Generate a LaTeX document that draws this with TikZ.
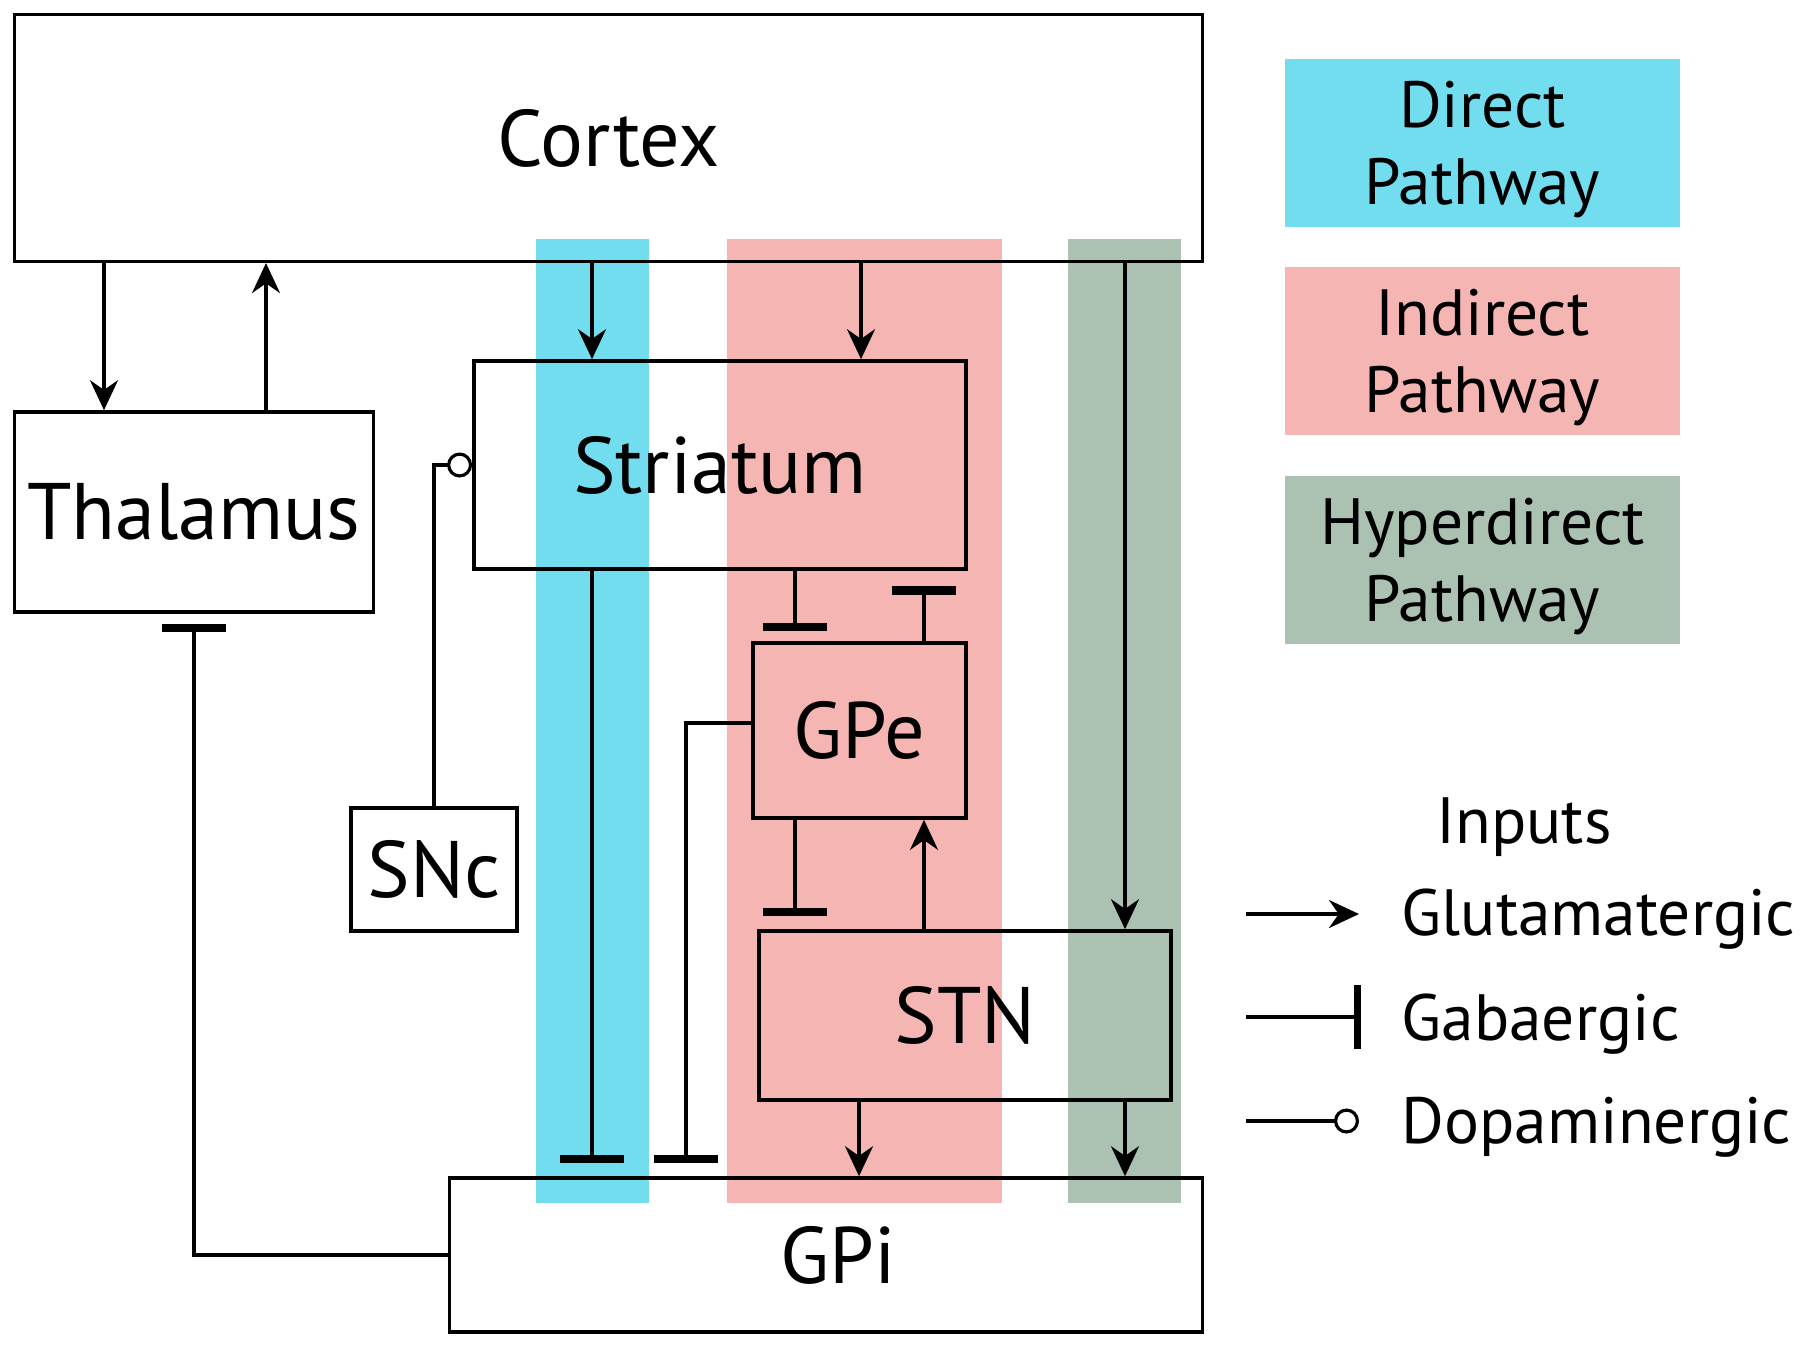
\documentclass[tikz,border=0pt]{standalone}
\usepackage{fontspec}
\setmainfont{PT Sans}
\usetikzlibrary{arrows.meta}

\definecolor{directcol}{RGB}{115,221,240}
\definecolor{indirectcol}{RGB}{245,181,178}
\definecolor{hypercol}{RGB}{171,194,179}
\newcommand{\boxfont}{\fontsize{22.8}{27}\selectfont}
\newcommand{\keyfont}{\fontsize{18.6}{22}\selectfont}

\begin{document}
\begin{tikzpicture}[x=0.01cm,y=-0.01cm,
    area/.style={draw,line width=1pt,inner sep=0pt,font=\boxfont},
    keybox/.style={inner sep=0pt,minimum width=3.95cm,minimum height=1.68cm,align=center,text depth=0pt,font=\keyfont},
    keytext/.style={inner sep=0pt,anchor=base west,font=\keyfont},
    glu/.style={-{Stealth[length=3mm,width=2.8mm]}},
    gaba/.style={-{Bar[width=6.4mm,line width=2.4pt]},shorten >=0.13cm},
    dopa/.style={-{Circle[length=2.5mm,width=2.5mm,fill=white]}}
    ]%
    \useasboundingbox (0,0) rectangle (1800,1344);
    \fill[directcol] (536,239) rectangle (649,1203);
    \fill[indirectcol] (727,239) rectangle (1002,1203);
    \fill[hypercol] (1068,239) rectangle (1181,1203);

    \node[area,minimum width=11.87cm,minimum height=2.465cm] (cortex) at (608.5,138) {Cortex};
    \node[area,minimum width=3.586cm,minimum height=2.0cm] (thalamus) at (194,512) {Thalamus};
    \node[area,minimum width=4.92cm,minimum height=2.08cm] (striatum) at (720,465) {Striatum};
    \node[area,minimum width=2.13cm,minimum height=1.75cm] (gpe) at (859.5,730.5) {GPe};
    \node[area,minimum width=4.115cm,minimum height=1.69cm] (stn) at (965,1015.5) {STN};
    \node[area,minimum width=7.53cm,minimum height=1.54cm] (gpi) at (826,1255) {\hspace*{0.24cm}GPi};
    \node[area,minimum width=1.656cm,minimum height=1.23cm] (snc) at (434,869.5) {SNc};

    \node[keybox,fill=directcol] (direct) at (1482.5,143) {Direct\\Pathway};
    \node[keybox,fill=indirectcol] (indirect) at (1482.5,351) {Indirect\\Pathway};
    \node[keybox,fill=hypercol] (hyper) at (1482.5,560) {Hyperdirect\\Pathway};

    \begin{scope}[line width=0.9pt]
        \draw[glu] (cortex.south -| 104,0) -- (thalamus.north -| 104,0);
        \draw[glu] (thalamus.north -| 266,0) -- (cortex.south -| 266,0);
        \draw[glu] (cortex.south -| 592,0) -- (striatum.north -| 592,0);
        \draw[glu] (cortex.south -| 861,0) -- (striatum.north -| 861,0);
        \draw[glu] (cortex.south -| 1125,0) -- (stn.north -| 1125,0);
        \draw[gaba] (striatum.south -| 592,0) -- (gpi.north -| 592,0);
        \draw[gaba,shorten >=0.1cm] (striatum.south -| 795,0) -- (gpe.north -| 795,0);
        \draw[gaba,shorten >=0.155cm] (gpe.north -| 924,0) -- (striatum.south -| 924,0);
        \draw[gaba] (gpe.south -| 795,0) -- (stn.north -| 795,0);
        \draw[glu] (stn.north -| 924,0) -- (gpe.south -| 924,0);
        \draw[gaba] (gpe.west |- 0,723) -| (gpi.north -| 686,0);
        \draw[glu] (stn.south -| 859,0) -- (gpi.north -| 859,0);
        \draw[glu] (stn.south -| 1125,0) -- (gpi.north -| 1125,0);
        \draw[gaba,shorten >=0.1cm] (gpi.west) -| (thalamus.south);
        \draw[dopa] (snc.north) |- (striatum.west);
    \end{scope}

    \node[font=\keyfont,anchor=base] (inputs) at (1524,843) {Inputs};
    \node[keytext] (glutext) at (1401,935.6) {Glutamatergic};
    \node[keytext] (gabatext) at (1401,1040) {Gabaergic};
    \node[keytext] (dopatext) at (1401,1143) {Dopaminergic};
    \coordinate (glustart) at (1246,914);
    \coordinate (gluend) at (1359,914);
    \coordinate (gabastart) at (1246,1017);
    \coordinate (gabaend) at (1361,1017);
    \coordinate (dopastart) at (1246,1121);
    \coordinate (dopaend) at (1359,1121);
    \begin{scope}[line width=0.9pt]
        \draw[glu] (glustart) -- (gluend);
        \draw[-{Bar[width=6.4mm,line width=2pt]}] (gabastart) -- (gabaend);
        \draw[dopa] (dopastart) -- (dopaend);
    \end{scope}
\end{tikzpicture}
\end{document}
